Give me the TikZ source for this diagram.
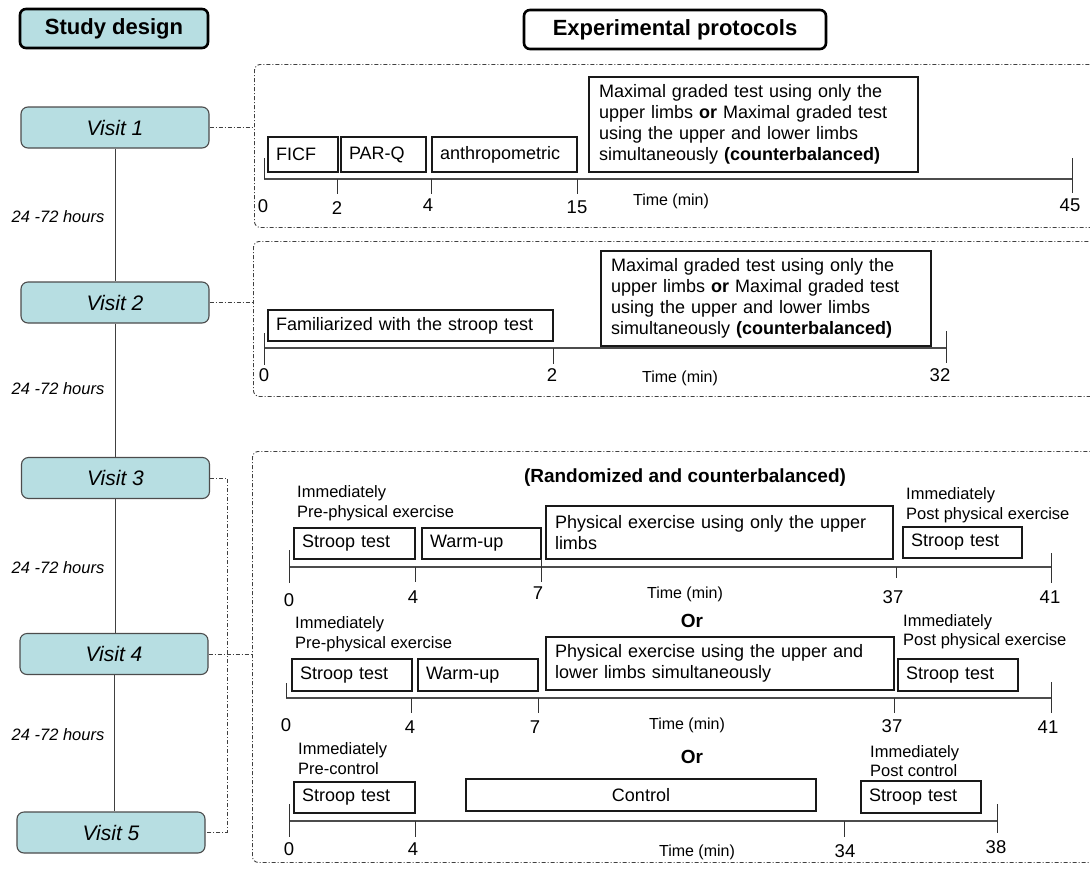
\documentclass[tikz,border=0pt]{standalone}
\usepackage{fontspec}
\setmainfont{Liberation Sans}
\newcommand\fsz[2]{\fontsize{#1}{#2}\selectfont}
\definecolor{visitfill}{HTML}{B7DEE2}
\begin{document}
\begin{tikzpicture}[x=1pt,y=-1pt,
 dd/.style={draw=black!75, line width=0.9pt, dash pattern=on 4pt off 2pt on 1pt off 2pt},
 pframe/.style={dd, rounded corners=6pt, anchor=north west, inner sep=0pt},
 pb/.style={draw=black!90, line width=1.1pt, inner xsep=8pt, inner ysep=0pt, align=left, font=\fsz{18}{21}},
 visit/.style={draw=black!70, line width=1.1pt, fill=visitfill, rounded corners=7pt, minimum width=188pt, minimum height=41pt, inner sep=0pt, font=\fsz{21}{24}\itshape},
 hdr/.style={draw=black, line width=2.6pt, rounded corners=6pt, minimum height=39pt, inner sep=0pt, font=\fsz{22}{26}\bfseries},
 ax/.style={draw=black!70, line width=1.3pt},
 tk/.style={draw=black!80, line width=1pt},
 num/.style={font=\fsz{18.5}{20}, inner sep=0pt},
 tm/.style={font=\fsz{16}{18}, inner sep=0pt},
 note/.style={font=\fsz{16.5}{19.5}, align=left, anchor=west, inner sep=0pt},
 hrs/.style={font=\fsz{16.5}{19}\itshape, inner sep=0pt},
 orl/.style={font=\fsz{19}{22}\bfseries, inner sep=0pt}
]
\fill[white] (0,0) rectangle (1090,868);
\clip (0,0) rectangle (1090,868);

% headers
\node[hdr, fill=visitfill, minimum width=188pt] (sd) at (114,28.5) {Study design};
\node[hdr, fill=white, minimum width=302pt] (ep) at (675,29.5) {Experimental protocols};

% visits
\node[visit] (v1) at (115,127.5) {Visit 1};
\node[visit] (v2) at (115,302.5) {Visit 2};
\node[visit] (v3) at (115.5,478) {Visit 3};
\node[visit] (v4) at (114,654) {Visit 4};
\node[visit] (v5) at (111,832.5) {Visit 5};

\draw[draw=black!75, line width=1pt] (v1.south) -- (v1.south |- v2.north);
\draw[draw=black!75, line width=1pt] (v2.south) -- (v2.south |- v3.north);
\draw[draw=black!75, line width=1pt] (v3.south) -- (v3.south |- v4.north);
\draw[draw=black!75, line width=1pt] (v4.south) -- (v4.south |- v5.north);

\node[hrs] (h1) at (58,217) {24 -72 hours};
\node[hrs] (h2) at (58,389) {24 -72 hours};
\node[hrs] (h3) at (58,568) {24 -72 hours};
\node[hrs] (h4) at (58,735) {24 -72 hours};

% protocol frames
\node[pframe, minimum width=850pt, minimum height=163pt] (p1) at (254,64) {};
\node[pframe, minimum width=850pt, minimum height=155pt] (p2) at (253,241) {};
\node[pframe, minimum width=850pt, minimum height=411pt] (p3) at (252,451) {};

\draw[dd] (v1.east) -- (v1.east -| p1.west);
\draw[dd] (v2.east) -- (v2.east -| p2.west);
\coordinate (bus) at (227,478);
\draw[dd] (v3.east) -| (bus |- v5.east) -- (v5.east);
\draw[dd] (v4.east) -- (v4.east -| p3.west);

% ---------- Visit 1 protocol ----------
\node[pb, text width=54pt, minimum height=35pt] (b1a) at (303,154.5) {FICF};
\node[pb, text width=69pt, minimum height=35pt] (b1b) at (383.5,154.5) {PAR-Q};
\node[pb, text width=129pt, minimum height=35pt] (b1c) at (504.5,154.5) {anthropometric};
\node[pb, inner xsep=10pt, text width=309pt, minimum height=95pt] (b1d) at (753.5,124.5)
 {Maximal graded test using only the\\upper limbs \textbf{or} Maximal graded test\\using the upper and lower limbs\\simultaneously \textbf{(counterbalanced)}};
\draw[ax] (264,179) -- (1072,179);
\draw[tk] (264,158) -- (264,179);
\draw[tk] (337,179) -- (337,194);
\draw[tk] (431,179) -- (431,194);
\draw[tk] (577,179) -- (577,194);
\draw[tk] (1072,158) -- (1072,193);
\node[num] (n1a) at (263,206) {0};
\node[num] (n1b) at (337,208) {2};
\node[num] (n1c) at (428,205) {4};
\node[num] (n1d) at (577,207) {15};
\node[tm] (t1) at (671,201) {Time (min)};
\node[num] (n1e) at (1070,205) {45};

% ---------- Visit 2 protocol ----------
\node[pb, text width=269pt, minimum height=31pt] (b2a) at (410.5,325.5) {Familiarized with the stroop test};
\node[pb, inner xsep=10pt, text width=310pt, minimum height=95pt] (b2b) at (766,298.5)
 {Maximal graded test using only the\\upper limbs \textbf{or} Maximal graded test\\using the upper and lower limbs\\simultaneously \textbf{(counterbalanced)}};
\draw[ax] (264,348) -- (946,348);
\draw[tk] (264,333) -- (264,365);
\draw[tk] (553,348) -- (553,364);
\draw[tk] (946,331) -- (946,363);
\node[num] (n2a) at (264,375) {0};
\node[num] (n2b) at (552,375) {2};
\node[tm] (t2) at (680,378) {Time (min)};
\node[num] (n2c) at (940,375) {32};

% ---------- Visits 3-5 protocol ----------
\node[font=\fsz{19}{22}\bfseries, inner sep=0pt] (rc) at (685,478) {(Randomized and counterbalanced)};

% Row A
\node[note] (preA) at (297,503) {Immediately\\Pre-physical exercise};
\node[note] (postA) at (906,505) {Immediately\\Post physical exercise};
\node[pb, text width=105pt, minimum height=31pt] (sA1) at (354.5,543.5) {Stroop test};
\node[pb, text width=103pt, minimum height=31pt] (wA) at (481.5,543.5) {Warm-up};
\node[pb, inner xsep=9pt, text width=329pt, minimum height=53pt] (pA) at (719.5,532.5) {Physical exercise using only the upper\\limbs};
\node[pb, text width=103pt, minimum height=31pt] (sA2) at (962.5,542.5) {Stroop test};
\draw[ax] (289,567) -- (1051,567);
\draw[tk] (289,550) -- (289,583);
\draw[tk] (415,567) -- (415,582);
\draw[tk] (541,559) -- (541,582);
\draw[tk] (896,567) -- (896,578);
\draw[tk] (1051,553) -- (1051,583);
\node[num] (nAa) at (289,600) {0};
\node[num] (nAb) at (413,597) {4};
\node[num] (nAc) at (538,593) {7};
\node[tm] (tA) at (685,594) {Time (min)};
\node[num] (nAd) at (893,597) {37};
\node[num] (nAe) at (1050,597) {41};
\node[orl] (or1) at (692,621) {Or};

% Row B
\node[note] (preB) at (295,634) {Immediately\\Pre-physical exercise};
\node[note] (postB) at (903,631.5) {Immediately\\Post physical exercise};
\node[pb, text width=104pt, minimum height=32pt] (sB1) at (352,675) {Stroop test};
\node[pb, text width=104pt, minimum height=32pt] (wB) at (478,675) {Warm-up};
\node[pb, inner xsep=9pt, text width=330pt, minimum height=53pt] (pB) at (720,663.5) {Physical exercise using the upper and\\lower limbs simultaneously};
\node[pb, text width=104pt, minimum height=32pt] (sB2) at (958,675) {Stroop test};
\draw[ax] (286,698) -- (1051,698);
\draw[tk] (286,683) -- (286,698);
\draw[tk] (411,698) -- (411,713);
\draw[tk] (538,698) -- (538,713);
\draw[tk] (894,698) -- (894,713);
\draw[tk] (1051,682) -- (1051,713);
\node[num] (nBa) at (286,725) {0};
\node[num] (nBb) at (410,727) {4};
\node[num] (nBc) at (535,727) {7};
\node[tm] (tB) at (687,725) {Time (min)};
\node[num] (nBd) at (892,726) {37};
\node[num] (nBe) at (1048,727) {41};
\node[orl] (or2) at (692,757) {Or};

% Row C
\node[note] (preC) at (298,758.5) {Immediately\\Pre-control};
\node[note] (postC) at (870,761) {Immediately\\Post control};
\node[pb, text width=105pt, minimum height=31pt] (sC1) at (354.5,797.5) {Stroop test};
\node[pb, align=center, text width=334pt, minimum height=32pt] (cC) at (641,795) {Control};
\node[pb, text width=104pt, minimum height=32pt] (sC2) at (921,797) {Stroop test};
\draw[ax] (289,821) -- (997,821);
\draw[tk] (289,804) -- (289,837);
\draw[tk] (415,821) -- (415,837);
\draw[tk] (844,821) -- (844,837);
\draw[tk] (997,804) -- (997,833);
\node[num] (nCa) at (289,849) {0};
\node[num] (nCb) at (413,849) {4};
\node[tm] (tC) at (697,852) {Time (min)};
\node[num] (nCc) at (845,851) {34};
\node[num] (nCd) at (996,847) {38};
\end{tikzpicture}
\end{document}
